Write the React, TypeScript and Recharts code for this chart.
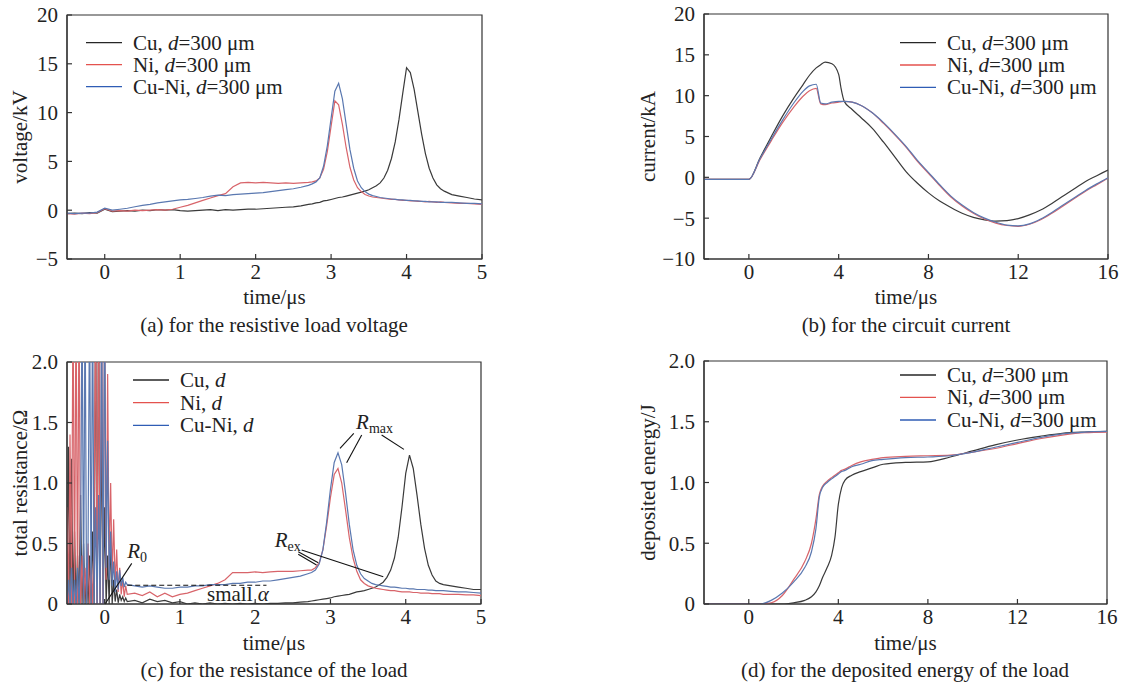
import React from 'react';
import {
  Legend,
  Line,
  LineChart,
  ReferenceArea,
  ReferenceDot,
  ReferenceLine,
  XAxis,
  YAxis,
} from 'recharts';

const SERIF = '"Liberation Serif", "Times New Roman", Times, serif';
const INK = '#222';
const AXIS = '#333';
const FS = 21;

const materials = ['Cu', 'Ni', 'Cu-Ni'];
const lineColors = ['#3a3a3a', '#d8646a', '#5a78b0'];
const keyColors = ['#262626', '#e4524e', '#2f5db5'];

// (a) resistive load voltage, kV
const timeA = [
  -0.5, -0.4, -0.3, -0.2, -0.1, 0, 0.1, 0.2, 0.3, 0.4, 0.5, 0.6, 0.7, 0.8, 0.9, 1, 1.1, 1.2, 1.3, 1.4, 1.5, 1.6,
  1.7, 1.8, 1.9, 2, 2.1, 2.2, 2.3, 2.4, 2.5, 2.6, 2.7,
  2.75, 2.8, 2.85, 2.9, 2.95, 3, 3.05, 3.1, 3.15, 3.2, 3.25, 3.3, 3.35, 3.4, 3.45, 3.5, 3.55, 3.6, 3.65, 3.7,
  3.75, 3.8, 3.85, 3.9, 3.95, 4, 4.05, 4.1, 4.15, 4.2, 4.25, 4.3, 4.35, 4.4, 4.45, 4.5,
  4.6, 4.7, 4.8, 4.9, 5,
];
const cuVoltage = [
  -0.35, -0.3, -0.35, -0.25, -0.3, 0.1, -0.15, -0.1, -0.05, -0.1, 0, -0.05, 0.05, 0, 0.05, -0.05, -0.1, -0.05, 0,
  0.05, -0.05, 0.05, 0, 0.05, 0.1, 0.1, 0.15, 0.2, 0.25, 0.3, 0.35, 0.45, 0.6,
  0.65, 0.75, 0.8, 0.95, 1.0, 1.1, 1.2, 1.3, 1.35, 1.45, 1.55, 1.65, 1.75, 1.85, 1.95, 2.1, 2.3, 2.5, 2.8, 3.3,
  4.1, 5.3, 7.0, 9.3, 12.0, 14.6, 14.1, 12.4, 10.1, 7.8, 5.8, 4.3, 3.3, 2.6, 2.2, 1.95,
  1.6, 1.45, 1.3, 1.15, 1.05,
];
const niVoltage = [
  -0.35, -0.4, -0.3, -0.35, -0.25, 0.15, -0.1, -0.05, -0.1, 0, -0.05, 0, 0.05, 0, 0.1, 0.3, 0.5, 0.75, 1.0, 1.25,
  1.5, 1.7, 2.4, 2.8, 2.85, 2.8, 2.85, 2.8, 2.75, 2.8, 2.75, 2.8, 2.85,
  2.9, 3.0, 3.3, 4.2, 6.0, 8.6, 11.2, 10.8, 8.8, 6.4, 4.4, 3.1, 2.3, 1.9, 1.6, 1.45, 1.35, 1.3, 1.25, 1.2, 1.15,
  1.1, 1.1, 1.05, 1.0, 1.0, 0.95, 0.95, 0.9, 0.9, 0.85, 0.9, 0.85, 0.8, 0.85, 0.8,
  0.75, 0.7, 0.7, 0.65, 0.6,
];
const cuNiVoltage = [
  -0.3, -0.35, -0.3, -0.3, -0.2, 0.2, 0, 0.1, 0.2, 0.35, 0.5, 0.6, 0.75, 0.85, 0.95, 1.05, 1.1, 1.2, 1.3, 1.45,
  1.55, 1.5, 1.6, 1.65, 1.7, 1.75, 1.8, 1.9, 2.0, 2.1, 2.2, 2.35, 2.55,
  2.7, 2.9, 3.3, 4.5, 6.6, 9.4, 12.2, 13.0, 11.4, 8.8, 6.2, 4.3, 3.0, 2.3, 1.9, 1.65, 1.5, 1.4, 1.3, 1.25, 1.2,
  1.15, 1.1, 1.05, 1.05, 1.0, 1.0, 0.95, 0.95, 0.9, 0.9, 0.85, 0.85, 0.85, 0.8, 0.8,
  0.8, 0.75, 0.7, 0.7, 0.65,
];

// (b) circuit current, kA
const timeB = [
  -2, -1, 0, 0.5, 1, 1.5, 2, 2.4, 2.7, 3, 3.2, 3.4, 3.7, 4, 4.1, 4.25, 4.6, 5, 5.5, 6, 6.5, 7, 7.5, 8, 8.5, 9,
  9.5, 10, 10.5, 11, 11.5, 12, 12.5, 13, 13.5, 14, 14.5, 15, 15.5, 16,
];
const cuCurrent = [
  -0.25, -0.25, -0.25, 2.4, 5.0, 7.5, 9.7, 11.3, 12.5, 13.4, 13.8, 14.1, 13.9, 12.6, 11.0, 9.3, 8.3, 7.3, 6.0,
  4.3, 2.5, 0.7, -0.7, -1.9, -2.9, -3.7, -4.4, -4.9, -5.2, -5.35, -5.3, -5.05, -4.6, -4.0, -3.2, -2.3, -1.4,
  -0.5, 0.2, 0.9,
];
const niCurrent = [
  -0.25, -0.25, -0.25, 2.2, 4.5, 6.7, 8.6, 9.9, 10.6, 10.9, 9.0, 8.9, 9.1, 9.2, 9.25, 9.3, 9.2, 8.8, 7.9, 6.6,
  5.2, 3.7, 2.0, 0.5, -1.0, -2.4, -3.5, -4.4, -5.1, -5.6, -5.9, -6.0, -5.75, -5.2, -4.4, -3.5, -2.6, -1.7, -0.9,
  -0.1,
];
const cuNiCurrent = [
  -0.25, -0.25, -0.25, 2.3, 4.7, 7.0, 9.1, 10.5, 11.2, 11.4, 9.1, 9.0, 9.2, 9.3, 9.3, 9.3, 9.2, 8.8, 7.9, 6.7,
  5.3, 3.8, 2.1, 0.6, -0.9, -2.3, -3.4, -4.3, -5.0, -5.5, -5.85, -5.95, -5.7, -5.1, -4.3, -3.4, -2.5, -1.6,
  -0.8, -0.05,
];

// (c) total resistance, ohm: breakdown oscillation, then the main trace
const timeOscC = [
  -0.5, -0.48, -0.46, -0.44, -0.42, -0.4, -0.38, -0.36, -0.34, -0.32, -0.3, -0.28, -0.26, -0.24, -0.22, -0.2,
  -0.18, -0.16, -0.14, -0.12, -0.1, -0.08, -0.06, -0.04, -0.02, 0, 0.02, 0.04, 0.06, 0.08, 0.1, 0.12, 0.14, 0.16,
  0.18, 0.2, 0.22, 0.24, 0.26, 0.28, 0.3,
];
const cuOscC = [
  0, 1.3, 0, 1.2, 0, 0.6, 0, 0.4, 0, 0.9, 0, 0.5, 0, 0.3, 0, 0.4, 0, 0.6, 0, 2.6, 0, 2.6, 0, 1.5, 0, 0.8, 0, 0.4,
  0, 0.55, 0, 0.2, 0.02, 0.12, 0.01, 0.08, 0.03, 0.06, 0.02, 0.05, 0.02,
];
const niOscC = [
  0.8, 0, 1.4, 0, 2.6, 0, 2.6, 0, 2.6, 0, 0.4, 0, 0.3, 0, 0.5, 0, 0.3, 0, 0.6, 2.6, 0, 2.6, 0, 2.6, 0, 2.6, 0.2,
  1.9, 0.3, 1.0, 0.2, 0.7, 0.15, 0.45, 0.1, 0.3, 0.08, 0.2, 0.06, 0.15, 0.08,
];
const cuNiOscC = [
  0, 0.2, 0, 0.3, 0, 0.2, 0, 0.3, 0, 0.4, 2.6, 0, 2.6, 0, 0.5, 2.6, 0, 2.6, 0, 0.8, 0, 0.9, 0, 2.6, 0, 2.6, 0.3,
  1.35, 0.2, 0.6, 0.15, 0.35, 0.1, 0.27, 0.12, 0.28, 0.15, 0.22, 0.14, 0.18, 0.16,
];
const timeMainC = timeA.slice(9);
const cuMainC = [
  0.03, 0.01, 0.04, 0.02, 0.03, 0.01, 0.02, 0, 0.01, 0, 0.01, 0, 0.005, 0, 0.005, 0, 0.005, 0, 0.005, 0.005, 0.01,
  0.01, 0.015, 0.02,
  0.025, 0.03, 0.035, 0.04, 0.045, 0.05, 0.06, 0.065, 0.07, 0.075, 0.08, 0.09, 0.1, 0.105, 0.11, 0.12, 0.13, 0.14,
  0.16, 0.18, 0.22, 0.28, 0.38, 0.55, 0.8, 1.08, 1.23, 1.12, 0.9, 0.66, 0.46, 0.32, 0.24, 0.19, 0.17, 0.16,
  0.15, 0.14, 0.13, 0.12, 0.12,
];
const niMainC = [
  0.09, 0.07, 0.1, 0.06, 0.09, 0.06, 0.08, 0.09, 0.11, 0.13, 0.15, 0.17, 0.2, 0.26, 0.26, 0.26, 0.265, 0.26, 0.265,
  0.27, 0.27, 0.27, 0.275, 0.28,
  0.28, 0.3, 0.34, 0.45, 0.65, 0.88, 1.07, 1.12, 1.0, 0.78, 0.55, 0.38, 0.27, 0.2, 0.17, 0.15, 0.14, 0.13, 0.125,
  0.12, 0.115, 0.11, 0.11, 0.105, 0.1, 0.1, 0.1, 0.095, 0.095, 0.09, 0.09, 0.09, 0.085, 0.085, 0.085, 0.08,
  0.08, 0.08, 0.075, 0.075, 0.07,
];
const cuNiMainC = [
  0.15, 0.14, 0.15, 0.14, 0.13, 0.13, 0.14, 0.14, 0.15, 0.15, 0.16, 0.16, 0.16, 0.17, 0.17, 0.18, 0.18, 0.19, 0.19,
  0.2, 0.21, 0.22, 0.23, 0.25,
  0.26, 0.28, 0.33, 0.45, 0.68, 0.95, 1.17, 1.25, 1.15, 0.92, 0.66, 0.45, 0.32, 0.25, 0.21, 0.19, 0.17, 0.16, 0.155,
  0.15, 0.145, 0.14, 0.14, 0.135, 0.13, 0.13, 0.125, 0.125, 0.12, 0.12, 0.12, 0.115, 0.115, 0.11, 0.11, 0.11,
  0.105, 0.1, 0.1, 0.095, 0.09,
];

// (d) deposited energy, J
const timeD = [
  -2, 0, 0.5, 1, 1.5, 2, 2.5, 2.8, 3, 3.15, 3.3, 3.5, 3.7, 3.85, 4, 4.15, 4.3, 4.6, 5, 5.5, 6, 7, 8, 9, 10, 11, 12,
  13, 14, 15, 16,
];
const cuEnergy = [
  0, 0, 0, 0, 0, 0.01, 0.03, 0.06, 0.1, 0.15, 0.22, 0.3, 0.4, 0.55, 0.82, 0.96, 1.02, 1.06, 1.09, 1.12, 1.15,
  1.165, 1.17, 1.21, 1.26, 1.31, 1.35, 1.38, 1.405, 1.415, 1.42,
];
const niEnergy = [
  0, 0, 0, 0.01, 0.07, 0.2, 0.35, 0.5, 0.7, 0.9, 0.97, 1.01, 1.04, 1.06, 1.08, 1.1, 1.11, 1.14, 1.17, 1.19, 1.205,
  1.215, 1.22, 1.225, 1.25, 1.28, 1.32, 1.36, 1.39, 1.41, 1.415,
];
const cuNiEnergy = [
  0, 0, 0, 0.03, 0.09, 0.18, 0.3, 0.43, 0.62, 0.88, 0.96, 1.0, 1.03, 1.05, 1.07, 1.09, 1.1, 1.13, 1.15, 1.18, 1.19,
  1.205, 1.21, 1.22, 1.25, 1.29, 1.33, 1.37, 1.4, 1.415, 1.42,
];

const ticksA = [0, 1, 2, 3, 4, 5];
const ticksB = [0, 4, 8, 12, 16];
const voltTicks = [-5, 0, 5, 10, 15, 20];
const currentTicks = [-10, -5, 0, 5, 10, 15, 20];
const unitTicks = [0, 0.5, 1, 1.5, 2];

interface Row {
  t: number;
  s0: number;
  s1: number;
  s2: number;
}

function buildRows(t: number[], cu: number[], ni: number[], cuNi: number[]): Row[] {
  return t.map((x, i) => ({ t: x, s0: cu[i], s1: ni[i], s2: cuNi[i] }));
}

const rowsA = buildRows(timeA, cuVoltage, niVoltage, cuNiVoltage);
const rowsB = buildRows(timeB, cuCurrent, niCurrent, cuNiCurrent);
const rowsC = buildRows(
  [...timeOscC, ...timeMainC],
  [...cuOscC, ...cuMainC],
  [...niOscC, ...niMainC],
  [...cuNiOscC, ...cuNiMainC],
);
const rowsD = buildRows(timeD, cuEnergy, niEnergy, cuNiEnergy);

const signed = (v: number) => (v < 0 ? `\u2212${-v}` : `${v}`);
const oneDecimal = (v: number) => (v === 0 ? '0' : v.toFixed(1));

interface PanelProps {
  left: number;
  top: number;
  width: number;
  height: number;
  margin: { top: number; right: number; bottom: number; left: number };
  rows: Row[];
  xDomain: [number, number];
  xTicks: number[];
  yDomain: [number, number];
  yTicks: number[];
  yFormat: (v: number) => string;
  yTitle: string;
  yTitleX: number;
  xTitleY: number;
  keyX: number;
  keyRows: number[];
  keySuffix: string;
  curve: 'linear' | 'monotone';
  extras?: React.ReactNode[];
}

const Y_AXIS_W = 60;
const X_AXIS_H = 30;

function Panel(p: PanelProps) {
  const plotLeft = p.margin.left + Y_AXIS_W;
  const plotW = p.width - plotLeft - p.margin.right;
  const plotH = p.height - p.margin.top - p.margin.bottom - X_AXIS_H;
  const midX = plotLeft + plotW / 2;
  const midY = p.margin.top + plotH / 2;
  const tickStyle = { fontSize: FS, fontFamily: SERIF, fill: INK };

  const keyBox = () => (
    <svg width={p.width} height={120}>
      {materials.map((m, i) => (
        <g key={m}>
          <line
            x1={p.keyX}
            x2={p.keyX + 36}
            y1={p.keyRows[i]}
            y2={p.keyRows[i]}
            stroke={keyColors[i]}
            strokeWidth={1.3}
          />
          <text x={p.keyX + 47} y={p.keyRows[i] + 7} fontFamily={SERIF} fontSize={FS} fill={INK}>
            {m},{' '}
            <tspan fontStyle="italic">d</tspan>
            {p.keySuffix}
          </text>
        </g>
      ))}
    </svg>
  );

  return (
    <div style={{ position: 'absolute', left: p.left, top: p.top, width: p.width, height: p.height }}>
      <LineChart width={p.width} height={p.height} data={p.rows} margin={p.margin}>
        <XAxis
          type="number"
          dataKey="t"
          domain={p.xDomain}
          ticks={p.xTicks}
          interval={0}
          height={X_AXIS_H}
          allowDataOverflow
          tickSize={-5}
          tickMargin={10}
          tick={tickStyle}
          axisLine={{ stroke: AXIS, strokeWidth: 1.2 }}
          tickLine={{ stroke: AXIS, strokeWidth: 1.2 }}
          label={() => (
            <text x={midX} y={p.xTitleY} textAnchor="middle" fontFamily={SERIF} fontSize={FS} fill={INK}>
              time/μs
            </text>
          )}
        />
        <YAxis
          type="number"
          domain={p.yDomain}
          ticks={p.yTicks}
          interval={0}
          width={Y_AXIS_W}
          allowDataOverflow
          tickFormatter={p.yFormat}
          tickSize={-5}
          tickMargin={14}
          tick={tickStyle}
          axisLine={{ stroke: AXIS, strokeWidth: 1.2 }}
          tickLine={{ stroke: AXIS, strokeWidth: 1.2 }}
          label={() => (
            <text
              x={p.yTitleX}
              y={midY}
              transform={`rotate(-90 ${p.yTitleX} ${midY})`}
              textAnchor="middle"
              fontFamily={SERIF}
              fontSize={FS}
              fill={INK}
            >
              {p.yTitle}
            </text>
          )}
        />
        <ReferenceArea
          x1={p.xDomain[0]}
          x2={p.xDomain[1]}
          y1={p.yDomain[0]}
          y2={p.yDomain[1]}
          fill="none"
          stroke={AXIS}
          strokeWidth={1.2}
          ifOverflow="visible"
        />
        {materials.map((m, i) => (
          <Line
            key={m}
            type={p.curve}
            dataKey={`s${i}`}
            name={m}
            stroke={lineColors[i]}
            strokeWidth={1.2}
            dot={false}
            activeDot={false}
            isAnimationActive={false}
          />
        ))}
        {p.extras}
        <Legend
          layout="vertical"
          align="center"
          verticalAlign="middle"
          content={keyBox}
          wrapperStyle={{ left: 0, top: 0, width: p.width, height: 120 }}
        />
      </LineChart>
    </div>
  );
}

function note(content: React.ReactNode) {
  return (props: any) => (
    <text x={props.cx} y={props.cy} fontFamily={SERIF} fontSize={FS} fill={INK}>
      {content}
    </text>
  );
}

const leader = { stroke: '#111', strokeWidth: 1.1, ifOverflow: 'visible' as const };

const notesC: React.ReactNode[] = [
  <ReferenceLine
    key="base"
    segment={[{ x: 0.3, y: 0.155 }, { x: 2.15, y: 0.155 }]}
    stroke="#111"
    strokeWidth={1.2}
    strokeDasharray="5 3"
    ifOverflow="visible"
  />,
  <ReferenceLine key="m1" segment={[{ x: 3.31, y: 1.41 }, { x: 3.127, y: 1.287 }]} {...leader} />,
  <ReferenceLine key="m2" segment={[{ x: 3.415, y: 1.397 }, { x: 3.215, y: 1.168 }]} {...leader} />,
  <ReferenceLine key="m3" segment={[{ x: 3.68, y: 1.397 }, { x: 3.976, y: 1.278 }]} {...leader} />,
  <ReferenceLine key="e1" segment={[{ x: 2.572, y: 0.432 }, { x: 2.838, y: 0.341 }]} {...leader} />,
  <ReferenceLine key="e2" segment={[{ x: 2.572, y: 0.411 }, { x: 2.815, y: 0.322 }]} {...leader} />,
  <ReferenceLine key="e3" segment={[{ x: 2.617, y: 0.446 }, { x: 3.702, y: 0.226 }]} {...leader} />,
  <ReferenceLine key="r0" segment={[{ x: 0.36, y: 0.336 }, { x: 0.005, y: 0 }]} {...leader} />,
  <ReferenceDot
    key="tmax"
    x={3.34}
    y={1.45}
    r={1}
    ifOverflow="visible"
    shape={note(
      <>
        <tspan fontStyle="italic">R</tspan>
        <tspan fontSize={14} dy={4}>
          max
        </tspan>
      </>,
    )}
  />,
  <ReferenceDot
    key="tex"
    x={2.26}
    y={0.47}
    r={1}
    ifOverflow="visible"
    shape={note(
      <>
        <tspan fontStyle="italic">R</tspan>
        <tspan fontSize={14} dy={4}>
          ex
        </tspan>
      </>,
    )}
  />,
  <ReferenceDot
    key="t0"
    x={0.3}
    y={0.38}
    r={1}
    ifOverflow="visible"
    shape={note(
      <>
        <tspan fontStyle="italic">R</tspan>
        <tspan fontSize={14} dy={4}>
          0
        </tspan>
      </>,
    )}
  />,
  <ReferenceDot
    key="talpha"
    x={1.36}
    y={0.025}
    r={1}
    ifOverflow="visible"
    shape={note(
      <>
        small <tspan fontStyle="italic">α</tspan>
      </>,
    )}
  />,
];

const captions = [
  { x: 274, y: 332, text: '(a) for the resistive load voltage' },
  { x: 906, y: 332, text: '(b) for the circuit current' },
  { x: 274, y: 677, text: '(c) for the resistance of the load' },
  { x: 905, y: 677, text: '(d) for the deposited energy of the load' },
];

export default function App() {
  return (
    <div style={{ position: 'fixed', left: 0, top: 0, width: 1137, height: 685, background: '#fff' }}>
      <Panel
        left={0}
        top={0}
        width={560}
        height={340}
        margin={{ top: 15, right: 78, bottom: 51, left: 7 }}
        rows={rowsA}
        xDomain={[-0.5, 5]}
        xTicks={ticksA}
        yDomain={[-5, 20]}
        yTicks={voltTicks}
        yFormat={signed}
        yTitle="voltage/kV"
        yTitleX={27}
        xTitleY={304}
        keyX={86}
        keyRows={[42.7, 64.7, 86.7]}
        keySuffix="=300 μm"
        curve="linear"
      />
      <Panel
        left={560}
        top={0}
        width={577}
        height={340}
        margin={{ top: 14, right: 29, bottom: 51, left: 84 }}
        rows={rowsB}
        xDomain={[-2, 16]}
        xTicks={ticksB}
        yDomain={[-10, 20]}
        yTicks={currentTicks}
        yFormat={signed}
        yTitle="current/kA"
        yTitleX={95}
        xTitleY={304}
        keyX={340}
        keyRows={[42.7, 65, 87.3]}
        keySuffix="=300 μm"
        curve="monotone"
      />
      <Panel
        left={0}
        top={340}
        width={560}
        height={345}
        margin={{ top: 22, right: 79, bottom: 51, left: 7 }}
        rows={rowsC}
        xDomain={[-0.5, 5]}
        xTicks={ticksA}
        yDomain={[0, 2]}
        yTicks={unitTicks}
        yFormat={oneDecimal}
        yTitle="total resistance/Ω"
        yTitleX={27}
        xTitleY={310}
        keyX={133}
        keyRows={[40, 62.7, 85.3]}
        keySuffix=""
        curve="linear"
        extras={notesC}
      />
      <Panel
        left={560}
        top={340}
        width={577}
        height={345}
        margin={{ top: 21, right: 30, bottom: 51, left: 84 }}
        rows={rowsD}
        xDomain={[-2, 16]}
        xTicks={ticksB}
        yDomain={[0, 2]}
        yTicks={unitTicks}
        yFormat={oneDecimal}
        yTitle="deposited energy/J"
        yTitleX={95}
        xTitleY={310}
        keyX={340}
        keyRows={[35, 57.3, 80]}
        keySuffix="=300 μm"
        curve="monotone"
      />
      <svg
        width={1137}
        height={685}
        style={{ position: 'absolute', left: 0, top: 0, pointerEvents: 'none' }}
      >
        {captions.map((c) => (
          <text key={c.text} x={c.x} y={c.y} textAnchor="middle" fontFamily={SERIF} fontSize={FS} fill={INK}>
            {c.text}
          </text>
        ))}
      </svg>
    </div>
  );
}
